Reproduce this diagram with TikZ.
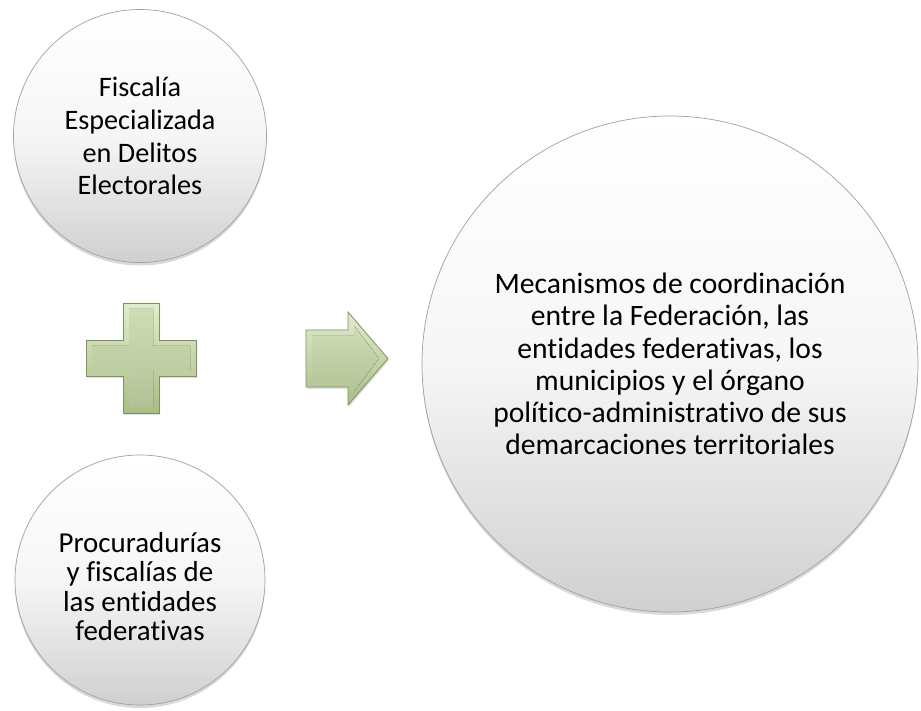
\documentclass[tikz,border=0pt]{standalone}
\usepackage{fontspec}
\setmainfont{Carlito}[Ligatures=NoCommon]
\usetikzlibrary{shadows}

\definecolor{bordeGris}{HTML}{A0A0A0}
\definecolor{verdeClaro}{HTML}{E2ECCF}
\definecolor{verdeMedio}{HTML}{C6D7A7}
\definecolor{verdeOscuro}{HTML}{A9BD85}
\definecolor{bordeVerde}{HTML}{7F9163}

\begin{document}
\begin{tikzpicture}[x=1pt, y=1pt,
    circulo/.style={circle, draw=bordeGris, line width=0.7pt,
        top color=white, bottom color=gray!37, middle color=gray!7,
        drop shadow={opacity=0.3, shadow xshift=0pt, shadow yshift=-3pt},
        inner sep=0pt, align=center},
    bloque/.style={draw=bordeVerde, line width=0.8pt, line join=miter,
        top color=verdeClaro, bottom color=verdeOscuro,
        drop shadow={opacity=0.25, shadow xshift=1pt, shadow yshift=-2pt}},
    cara/.style={top color=verdeMedio!85!white, bottom color=verdeMedio!90!black}]
    \useasboundingbox (0,0) rectangle (921,710);

    \node[circulo, minimum size=253, font=\fontsize{28.2}{32.7}\selectfont] (fiscalia) at (140,574)
        {Fiscalía\\Especializada\\en Delitos\\Electorales};
    \node[circulo, minimum size=250, font=\fontsize{28.9}{29.4}\selectfont] (procuradurias) at (140,130)
        {\\[4pt]Procuradurías\\y fiscalías de\\las entidades\\federativas};
    \node[circulo, minimum size=496, font=\fontsize{29.6}{32.3}\selectfont] (mecanismos) at (670,346)
        {Mecanismos de coordinación\\entre la Federación, las\\entidades federativas, los\\municipios y el órgano\\político-administrativo de sus\\demarcaciones territoriales};

    % signo mas
    \coordinate (mas) at (141,352);
    \draw[bloque, shift={(mas)}]
        (-18,55) -- (18,55) -- (18,18) -- (55,18) -- (55,-18) -- (18,-18)
        -- (18,-55) -- (-18,-55) -- (-18,-18) -- (-55,-18) -- (-55,18)
        -- (-18,18) -- cycle;
    \fill[cara, shift={(mas)}]
        (-12,49) -- (12,49) -- (12,12) -- (49,12) -- (49,-12) -- (12,-12)
        -- (12,-49) -- (-12,-49) -- (-12,-12) -- (-49,-12) -- (-49,12)
        -- (-12,12) -- cycle;

    % flecha
    \coordinate (flecha) at (306,351.5);
    \draw[bloque, shift={(flecha)}]
        (0,-28.5) -- (42,-28.5) -- (42,-46.5) -- (82,0) -- (42,46.5)
        -- (42,28.5) -- (0,28.5) -- cycle;
    \fill[cara, shift={(flecha)}]
        (6,-22.5) -- (48,-22.5) -- (48,-33) -- (73,0) -- (48,33)
        -- (48,22.5) -- (6,22.5) -- cycle;
\end{tikzpicture}
\end{document}
